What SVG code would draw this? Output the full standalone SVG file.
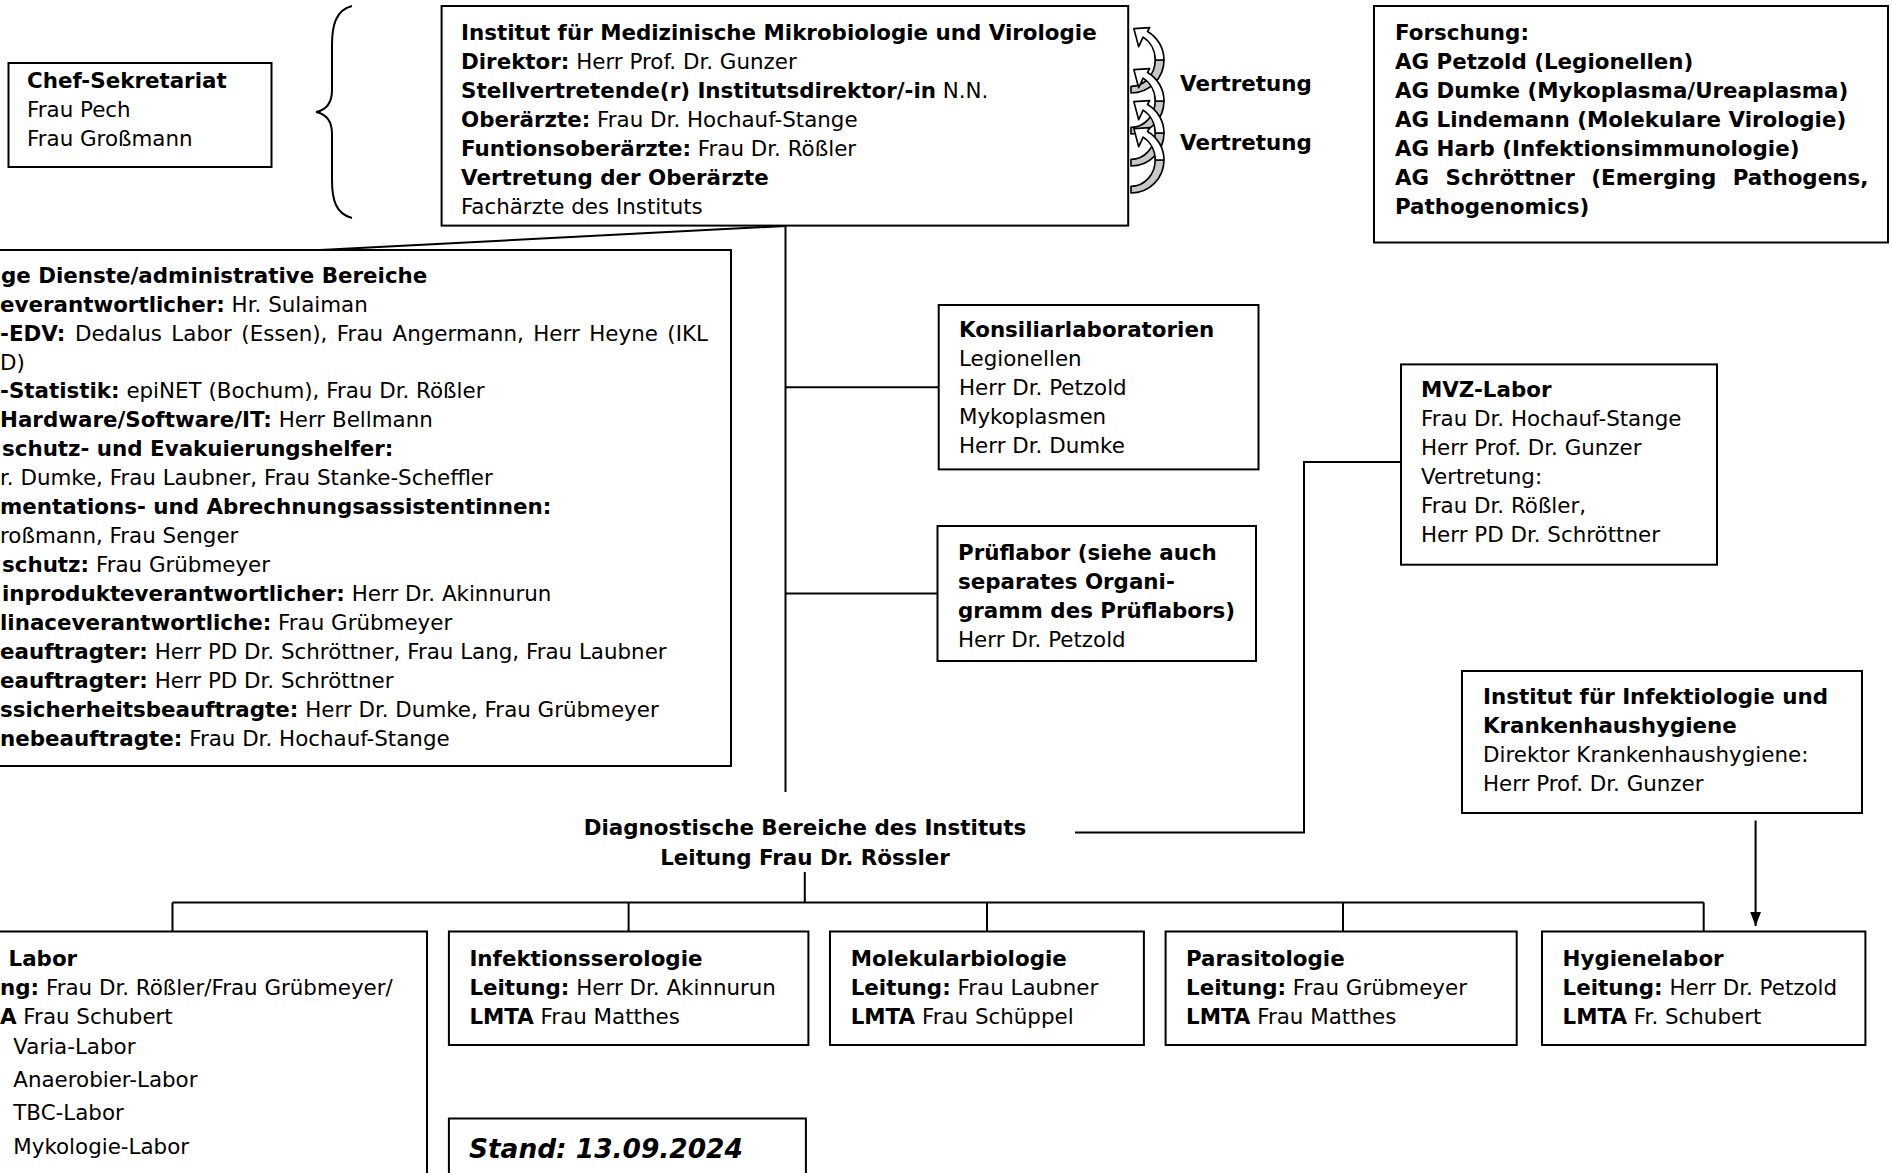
<svg xmlns="http://www.w3.org/2000/svg" width="1892" height="1173" viewBox="0 0 1892 1173">
<style>
text{font-family:"DejaVu Sans",Verdana,sans-serif;font-size:21.4px;fill:#000}
.b{font-weight:bold}
.box{fill:#fff;stroke:#000;stroke-width:2}
.ln{fill:none;stroke:#000;stroke-width:2}
.ca{stroke:#000;stroke-width:1.5;stroke-linejoin:round}
</style>
<defs>
<marker id="ahd" markerWidth="14" markerHeight="18" refX="18" refY="7" orient="auto" markerUnits="userSpaceOnUse" viewBox="0 0 18 14">
<path d="M0,0 L18,7 L0,14 Z" fill="#000"/>
</marker>
<g id="carrow">
<path class="ca" fill="#c8c8c8" d="M0,60 A30 30 0 0 0 30,30 L22,30 A22 24 0 0 1 0,54 Z"/>
<path class="ca" fill="#fff" d="M30,30 A30 30 0 0 0 15,4.02 L17,0.56 L2.6,1.5 L7,17.9 L11,9.2 A22 24 0 0 1 22,30 Z"/>
</g>
</defs>
<rect x="0" y="0" width="1892" height="1173" fill="#fff"/>

<g id="connectors">
<line class="ln" x1="785.5" y1="226" x2="785.5" y2="792"/>
<line class="ln" x1="785.5" y1="226" x2="320" y2="250"/>
<line class="ln" x1="785.5" y1="387.3" x2="939" y2="387.3"/>
<line class="ln" x1="785.5" y1="593.6" x2="938" y2="593.6"/>
<polyline class="ln" points="1401,462 1304,462 1304,832.5 1075,832.5"/>
<line class="ln" x1="1755.6" y1="820.5" x2="1755.6" y2="926" marker-end="url(#ahd)"/>
<line class="ln" x1="804.8" y1="872" x2="804.8" y2="902.5"/>
<line class="ln" x1="172.5" y1="902.5" x2="1703.7" y2="902.5"/>
<line class="ln" x1="172.5" y1="902.5" x2="172.5" y2="931.5"/>
<line class="ln" x1="628.6" y1="902.5" x2="628.6" y2="931.5"/>
<line class="ln" x1="987" y1="902.5" x2="987" y2="931.5"/>
<line class="ln" x1="1343" y1="902.5" x2="1343" y2="931.5"/>
<line class="ln" x1="1703.7" y1="902.5" x2="1703.7" y2="931.5"/>
<path class="ln" stroke-width="1.5" d="M352,6 C336,10 332,25 332,45 L332,90 C332,104 326,110 316,112 C326,114 332,120 332,134 L332,180 C332,200 336,214 352,218"/>
</g>

<g id="chef">
<rect class="box" x="8.5" y="63" width="263" height="104"/>
<text x="27" y="88" class="b">Chef-Sekretariat</text>
<text x="27" y="117">Frau Pech</text>
<text x="27" y="146">Frau Großmann</text>
</g>

<g id="institut">
<rect class="box" x="441.6" y="6" width="686.6" height="219.6"/>
<text x="461" y="40" class="b">Institut für Medizinische Mikrobiologie und Virologie</text>
<text x="461" y="69"><tspan class="b">Direktor:</tspan> Herr Prof. Dr. Gunzer</text>
<text x="461" y="98"><tspan class="b">Stellvertretende(r) Institutsdirektor/-in</tspan> N.N.</text>
<text x="461" y="127"><tspan class="b">Oberärzte:</tspan> Frau Dr. Hochauf-Stange</text>
<text x="461" y="156"><tspan class="b">Funtionsoberärzte:</tspan> Frau Dr. Rößler</text>
<text x="461" y="185" class="b">Vertretung der Oberärzte</text>
<text x="461" y="214">Fachärzte des Instituts</text>
</g>

<g id="vertretung">
<use href="#carrow" transform="translate(1131 27) scale(1.1 1.1)"/>
<use href="#carrow" transform="translate(1131 68) scale(1.1 1.1)"/>
<use href="#carrow" transform="translate(1131 100) scale(1.1 1.1)"/>
<use href="#carrow" transform="translate(1131 127) scale(1.1 1.1)"/>
<text x="1180" y="91" class="b">Vertretung</text>
<text x="1180" y="150" class="b">Vertretung</text>
</g>

<g id="forschung">
<rect class="box" x="1374" y="6" width="514" height="236.5"/>
<text x="1395" y="40" class="b">Forschung:</text>
<text x="1395" y="69" class="b">AG Petzold (Legionellen)</text>
<text x="1395" y="98" class="b">AG Dumke (Mykoplasma/Ureaplasma)</text>
<text x="1395" y="127" class="b">AG Lindemann (Molekulare Virologie)</text>
<text x="1395" y="156" class="b">AG Harb (Infektionsimmunologie)</text>
<text x="1395" y="185" class="b" style="word-spacing:9px">AG Schröttner (Emerging Pathogens,</text>
<text x="1395" y="214" class="b">Pathogenomics)</text>
</g>

<g id="admin">
<rect class="box" x="-10" y="250" width="741" height="516"/>
<text x="1" y="282.6" class="b">ge Dienste/administrative Bereiche</text>
<text x="0" y="311.6"><tspan class="b">everantwortlicher:</tspan> Hr. Sulaiman</text>
<text x="0" y="340.5" style="word-spacing:2.7px"><tspan class="b">-EDV:</tspan> Dedalus Labor (Essen), Frau Angermann, Herr Heyne (IKL</text>
<text x="0" y="369.5">D)</text>
<text x="0" y="398.4"><tspan class="b">-Statistik:</tspan> epiNET (Bochum), Frau Dr. Rößler</text>
<text x="0" y="427.4"><tspan class="b">Hardware/Software/IT:</tspan> Herr Bellmann</text>
<text x="2" y="456.4" class="b">schutz- und Evakuierungshelfer:</text>
<text x="0" y="485.3">r. Dumke, Frau Laubner, Frau Stanke-Scheffler</text>
<text x="0" y="514.3" class="b">mentations- und Abrechnungsassistentinnen:</text>
<text x="0" y="543.2">roßmann, Frau Senger</text>
<text x="2" y="572.2"><tspan class="b">schutz:</tspan> Frau Grübmeyer</text>
<text x="2" y="601.2"><tspan class="b">inprodukteverantwortlicher:</tspan> Herr Dr. Akinnurun</text>
<text x="0" y="630.1"><tspan class="b">linaceverantwortliche:</tspan> Frau Grübmeyer</text>
<text x="0" y="659.1"><tspan class="b">eauftragter:</tspan> Herr PD Dr. Schröttner, Frau Lang, Frau Laubner</text>
<text x="0" y="688.1"><tspan class="b">eauftragter:</tspan> Herr PD Dr. Schröttner</text>
<text x="0" y="717"><tspan class="b">ssicherheitsbeauftragte:</tspan> Herr Dr. Dumke, Frau Grübmeyer</text>
<text x="0" y="746"><tspan class="b">nebeauftragte:</tspan> Frau Dr. Hochauf-Stange</text>
</g>

<g id="konsiliar">
<rect class="box" x="938.7" y="305" width="319.8" height="164.4"/>
<text x="959" y="337" class="b">Konsiliarlaboratorien</text>
<text x="959" y="366">Legionellen</text>
<text x="959" y="395">Herr Dr. Petzold</text>
<text x="959" y="424">Mykoplasmen</text>
<text x="959" y="453">Herr Dr. Dumke</text>
</g>

<g id="prueflabor">
<rect class="box" x="937.5" y="526" width="318.5" height="135"/>
<text x="958" y="560" class="b">Prüflabor (siehe auch</text>
<text x="958" y="589" class="b">separates Organi-</text>
<text x="958" y="618" class="b">gramm des Prüflabors)</text>
<text x="958" y="647">Herr Dr. Petzold</text>
</g>

<g id="mvz">
<rect class="box" x="1401" y="364.4" width="316" height="200.3"/>
<text x="1421" y="397" class="b">MVZ-Labor</text>
<text x="1421" y="426">Frau Dr. Hochauf-Stange</text>
<text x="1421" y="455">Herr Prof. Dr. Gunzer</text>
<text x="1421" y="484">Vertretung:</text>
<text x="1421" y="513">Frau Dr. Rößler,</text>
<text x="1421" y="542">Herr PD Dr. Schröttner</text>
</g>

<g id="infektiologie">
<rect class="box" x="1462" y="671" width="400" height="142"/>
<text x="1483" y="704" class="b">Institut für Infektiologie und</text>
<text x="1483" y="733" class="b">Krankenhaushygiene</text>
<text x="1483" y="762">Direktor Krankenhaushygiene:</text>
<text x="1483" y="791">Herr Prof. Dr. Gunzer</text>
</g>

<g id="diagnostik">
<text x="805" y="835" class="b" text-anchor="middle">Diagnostische Bereiche des Instituts</text>
<text x="805" y="865" class="b" text-anchor="middle">Leitung Frau Dr. Rössler</text>
</g>

<g id="labor">
<rect class="box" x="-10" y="931.5" width="437" height="300"/>
<text x="8.5" y="965.5" class="b">Labor</text>
<text x="0" y="994.5"><tspan class="b">ng:</tspan> Frau Dr. Rößler/Frau Grübmeyer/</text>
<text x="0" y="1023.5"><tspan class="b">A</tspan> Frau Schubert</text>
<text x="13.3" y="1053.6">Varia-Labor</text>
<text x="13.3" y="1087.4">Anaerobier-Labor</text>
<text x="13.3" y="1120">TBC-Labor</text>
<text x="13.3" y="1153.8">Mykologie-Labor</text>
</g>

<g id="serologie">
<rect class="box" x="448.9" y="931.5" width="359.5" height="113.5"/>
<text x="469.4" y="965.5" class="b">Infektionsserologie</text>
<text x="469.4" y="994.5"><tspan class="b">Leitung:</tspan> Herr Dr. Akinnurun</text>
<text x="469.4" y="1023.5"><tspan class="b">LMTA</tspan> Frau Matthes</text>
</g>

<g id="molekular">
<rect class="box" x="830" y="931.5" width="313.9" height="113.5"/>
<text x="850.7" y="965.5" class="b">Molekularbiologie</text>
<text x="850.7" y="994.5"><tspan class="b">Leitung:</tspan> Frau Laubner</text>
<text x="850.7" y="1023.5"><tspan class="b">LMTA</tspan> Frau Schüppel</text>
</g>

<g id="parasitologie">
<rect class="box" x="1165.6" y="931.5" width="351.1" height="113.5"/>
<text x="1186" y="965.5" class="b">Parasitologie</text>
<text x="1186" y="994.5"><tspan class="b">Leitung:</tspan> Frau Grübmeyer</text>
<text x="1186" y="1023.5"><tspan class="b">LMTA</tspan> Frau Matthes</text>
</g>

<g id="hygiene">
<rect class="box" x="1542" y="931.5" width="323.4" height="113.5"/>
<text x="1562.6" y="965.5" class="b">Hygienelabor</text>
<text x="1562.6" y="994.5"><tspan class="b">Leitung:</tspan> Herr Dr. Petzold</text>
<text x="1562.6" y="1023.5"><tspan class="b">LMTA</tspan> Fr. Schubert</text>
</g>

<g id="stand">
<rect class="box" x="448.9" y="1118.5" width="357" height="100"/>
<text x="469" y="1158" class="b" style="font-size:26.4px;font-style:italic">Stand: 13.09.2024</text>
</g>
</svg>
